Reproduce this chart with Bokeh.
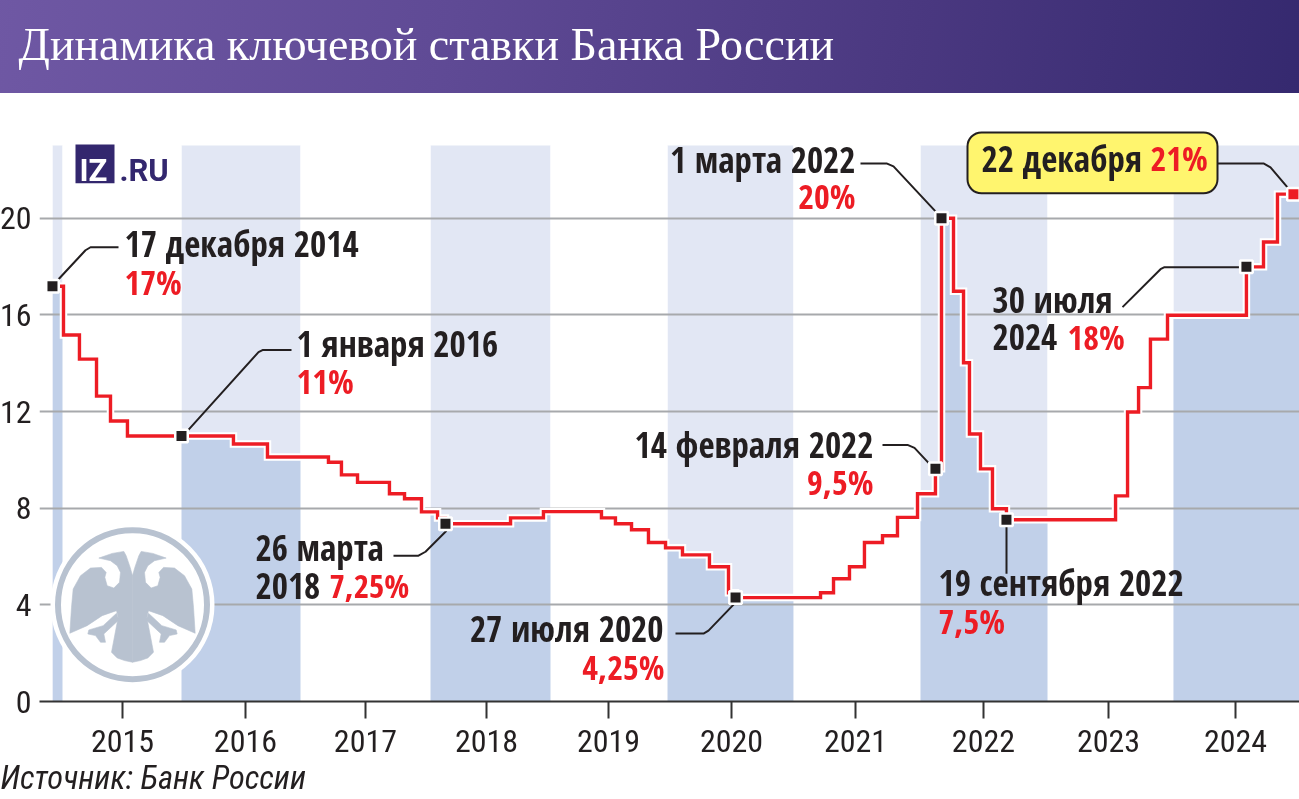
from bokeh.plotting import figure
from bokeh.embed import file_html
from bokeh.resources import INLINE
from bokeh.models import FixedTicker, Label, BoxAnnotation, Title

# ---- data ----
year_labels = ["2015", "2016", "2017", "2018", "2019", "2020", "2021", "2022", "2023", "2024"]
year_ticks = [2015.485, 2016.479, 2017.449, 2018.428, 2019.414, 2020.408, 2021.411, 2022.445, 2023.456, 2024.483]
y_ticks = [0, 4, 8, 12, 16, 20]

rate_x = [2014.919, 2015.008, 2015.137, 2015.275, 2015.388, 2015.525, 2016.382, 2016.657, 2017.150,
          2017.255, 2017.385, 2017.643, 2017.765, 2017.902, 2018.032, 2018.096, 2018.622, 2018.888,
          2019.357, 2019.470, 2019.600, 2019.737, 2019.875, 2020.012, 2020.230, 2020.384, 2020.441,
          2021.128, 2021.233, 2021.362, 2021.483, 2021.629, 2021.750, 2021.912, 2022.057, 2022.106,
          2022.203, 2022.284, 2022.332, 2022.421, 2022.518, 2022.631, 2023.513, 2023.610, 2023.699,
          2023.795, 2023.933, 2024.571, 2024.709, 2024.822, 2024.951]
rate_y = [17.19, 15.17, 14.17, 12.64, 11.61, 10.99, 10.66, 10.12, 9.90,
          9.38, 9.07, 8.60, 8.39, 7.85, 7.60, 7.36, 7.60, 7.86,
          7.60, 7.36, 7.11, 6.58, 6.36, 6.07, 5.58, 4.50, 4.30,
          4.50, 5.08, 5.58, 6.58, 6.86, 7.62, 8.60, 9.63, 20.0,
          16.98, 14.02, 11.07, 9.63, 7.98, 7.52, 8.51, 11.98, 12.99,
          15.0, 15.99, 17.99, 19.02, 21.0, 21.0]

point_x = [2014.919, 2015.962, 2018.096, 2020.441, 2022.057, 2022.106, 2022.631, 2024.571]
point_y = [17.19, 10.99, 7.36, 4.30, 9.63, 20.0, 7.52, 17.99]
last_x = [2024.951]
last_y = [21.0]

band_left = [2014.919, 2015.962, 2017.975, 2019.891, 2021.936, 2023.981]
band_right = [2015.0, 2016.924, 2018.945, 2020.909, 2022.963, 2025.0]
gap_left = [2015.0, 2016.924, 2018.945, 2020.909, 2022.963]
gap_right = [2015.962, 2017.975, 2019.891, 2021.936, 2023.981]

# ---- picture geometry: one year is 123.7 px, one percent 24.2 px ----
def X(px):
    return 2015 + (px - 62) / 123.7
def Y(py):
    return (701 - py) / 24.2

INK = "#231f20"
RED = "#ed1c24"
NARROW = "Open Sans Condensed"
PLAIN = "Roboto Condensed"

p = figure(width=1307, height=808, x_range=(X(39), X(1299)), y_range=(0, Y(94)),
           min_border_left=47, min_border_right=0, min_border_top=103, min_border_bottom=98,
           toolbar_location=None, output_backend="svg",
           border_fill_color=None, background_fill_color=None)
p.styles = {"position": "fixed", "left": "-8px", "top": "-9px",
            "background": "linear-gradient(100deg,#6f58a4 0%,#5f4a95 35%,#4a3880 70%,#35296f 100%) 0 0 / 100% 102px no-repeat"}
p.outline_line_color = None

p.title = Title(text="Динамика ключевой ставки Банка России", align="left", offset=-21, standoff=51,
                text_color="white", text_font="Liberation Serif", text_font_size="46px",
                text_font_style="normal", text_line_height=0.8)
p.add_layout(Title(text="Источник: Банк России", align="left", offset=-39, standoff=5,
                   text_color=INK, text_font=PLAIN, text_font_size="32.5px", text_font_style="italic",
                   text_line_height=0.9), "below")

# bands
top = Y(144)
p.quad(left=band_left, right=band_right, bottom=0, top=top, fill_color="#e2e7f4", line_color=None, level="image")
area_x = rate_x + [X(1299)]
area_y = rate_y + [rate_y[-1]]
p.varea_step(x=area_x, y1=[0] * len(area_x), y2=area_y, step_mode="after", fill_color="#c1d0e9", level="image")
p.quad(left=[X(39)], right=[band_left[0]], bottom=0, top=top, fill_color="white", line_color=None, level="image")
p.quad(left=gap_left, right=gap_right, bottom=0, top=top, fill_color="white", line_color=None, level="image")

# axes
p.xgrid.visible = False
p.ygrid.ticker = FixedTicker(ticks=y_ticks[1:])
p.ygrid.grid_line_color = "#a7a9ac"
p.ygrid.grid_line_width = 2

xa = p.xaxis[0]
xa.ticker = FixedTicker(ticks=year_ticks)
xa.major_label_overrides = dict(zip(year_ticks, year_labels))
xa.axis_line_color = "#333333"
xa.axis_line_width = 2
xa.major_tick_line_color = "#333333"
xa.major_tick_line_width = 2
xa.major_tick_in = 0
xa.major_tick_out = 17
xa.minor_tick_line_color = None
xa.minor_tick_in = 0
xa.minor_tick_out = 0
xa.major_label_standoff = 11
xa.major_label_text_font = PLAIN
xa.major_label_text_font_size = "32px"
xa.major_label_text_color = INK

ya = p.yaxis[0]
ya.ticker = FixedTicker(ticks=y_ticks)
ya.axis_line_color = None
ya.major_tick_line_color = None
ya.minor_tick_line_color = None
ya.major_tick_in = 0
ya.major_tick_out = 0
ya.minor_tick_in = 0
ya.minor_tick_out = 0
ya.major_label_standoff = 8
ya.major_label_text_font = PLAIN
ya.major_label_text_font_size = "32px"
ya.major_label_text_color = INK

# emblem
def emblem(zx, zy):
    return [x / 3 for x in zx], [460 + y / 3 for y in zy]

p.scatter([X(132)], [Y(604)], size=164, marker="circle", fill_color="white", line_color=None)
p.scatter([X(132)], [Y(604)], size=149, marker="circle", fill_color="white", line_color="#b8c2d0", line_width=6)
half_x = [396, 389, 377, 370, 335, 295, 330, 350, 360, 357, 340, 320, 313, 317, 303, 270, 240, 218, 213, 208,
          260, 305, 348, 353, 333, 350, 372, 396]
half_y = [345, 320, 285, 272, 278, 292, 300, 315, 335, 365, 382, 375, 350, 335, 320, 322, 345, 385, 440, 518,
          495, 465, 450, 470, 575, 592, 600, 605]
leg_x = [348, 308, 265, 262, 285, 300, 315, 310, 355]
leg_y = [458, 495, 508, 520, 525, 545, 545, 520, 478]
e_col = "#b8c2d0"
for hx, hy in ((half_x, half_y), (leg_x, leg_y)):
    for xs in (hx, [792 - v for v in hx]):
        ex, ey = emblem(xs, hy)
        p.patch([X(v) for v in ex], [Y(v) for v in ey], fill_color=e_col, line_color=e_col, line_width=0.6)

# rate line
p.step(rate_x, rate_y, mode="after", line_color="white", line_width=7.5, line_join="miter")
p.step(rate_x, rate_y, mode="after", line_color=RED, line_width=3.4, line_join="miter")

# leader lines
leaders = [
    [(58, 278), (85, 249), (90, 246), (118, 246)],
    [(187, 430), (258, 351), (262, 349), (291, 349)],
    [(393, 555), (418, 555), (425, 551), (446, 530)],
    [(675, 633), (703, 633), (708, 630), (734, 603)],
    [(882, 444), (907, 444), (914, 447), (928, 462)],
    [(860, 162), (886, 162), (893, 165), (935, 210)],
    [(1006, 525), (1006, 573)],
    [(1122, 306), (1160, 268), (1164, 266), (1240, 266)],
    [(1217, 162), (1263, 162), (1270, 166), (1287, 186)],
]
for pts in leaders:
    p.line([X(a) for a, _ in pts], [Y(b) for _, b in pts], line_color=INK, line_width=2)

# points
p.scatter(point_x, point_y, marker="square", size=12.5, fill_color=INK, line_color="white", line_width=2.5)
p.scatter(last_x, last_y, marker="square", size=12.5, fill_color=RED, line_color="white", line_width=2.5)

# callout box
p.add_layout(BoxAnnotation(left=X(967), right=X(1217), top=Y(131), bottom=Y(192),
                           fill_color="#fff56e", fill_alpha=1, line_color=INK, line_alpha=1,
                           line_width=2, border_radius=14))

def put(text, px, py, color=INK, size=35, align="left", font=NARROW, style="bold", lift=15):
    p.add_layout(Label(x=X(px), y=Y(py - lift), text=text, text_color=color, text_font=font,
                       text_font_size=f"{size}px", text_align=align, text_baseline="alphabetic",
                       text_font_style=style))

put("17 декабря 2014", 124, 257)
put("17%", 124, 296, RED, size=34)
put("1 января 2016", 296, 357)
put("11%", 296, 395, RED, size=34)
put("26 марта", 255, 562)
put("2018", 255, 600)
put("7,25%", 329, 600, RED, size=33)
put("27 июля 2020", 663, 643, align="right")
put("4,25%", 664, 681, RED, size=34, align="right")
put("14 февраля 2022", 873, 459, align="right")
put("9,5%", 873, 496, RED, size=34, align="right")
put("1 марта 2022", 855, 173, align="right")
put("20%", 855, 210, RED, size=34, align="right")
put("19 сентября 2022", 938, 597)
put("7,5%", 938, 635, RED, size=34)
put("30 июля", 992, 313)
put("2024", 992, 351)
put("18%", 1067, 351, RED, size=34)
put("22 декабря", 981, 172)
put("21%", 1150, 172, RED, size=34)

# logo
LOGO = "#33276e"
p.add_layout(BoxAnnotation(left=X(75), right=X(114), top=Y(143), bottom=Y(182), fill_color=LOGO, fill_alpha=1, line_color=None))
put("IZ", 79, 177, "white", size=31, font="Roboto", lift=8)
put(".RU", 119, 177, LOGO, size=31, font="Roboto", lift=8)

open("out.html", "w").write(file_html(p, INLINE))
